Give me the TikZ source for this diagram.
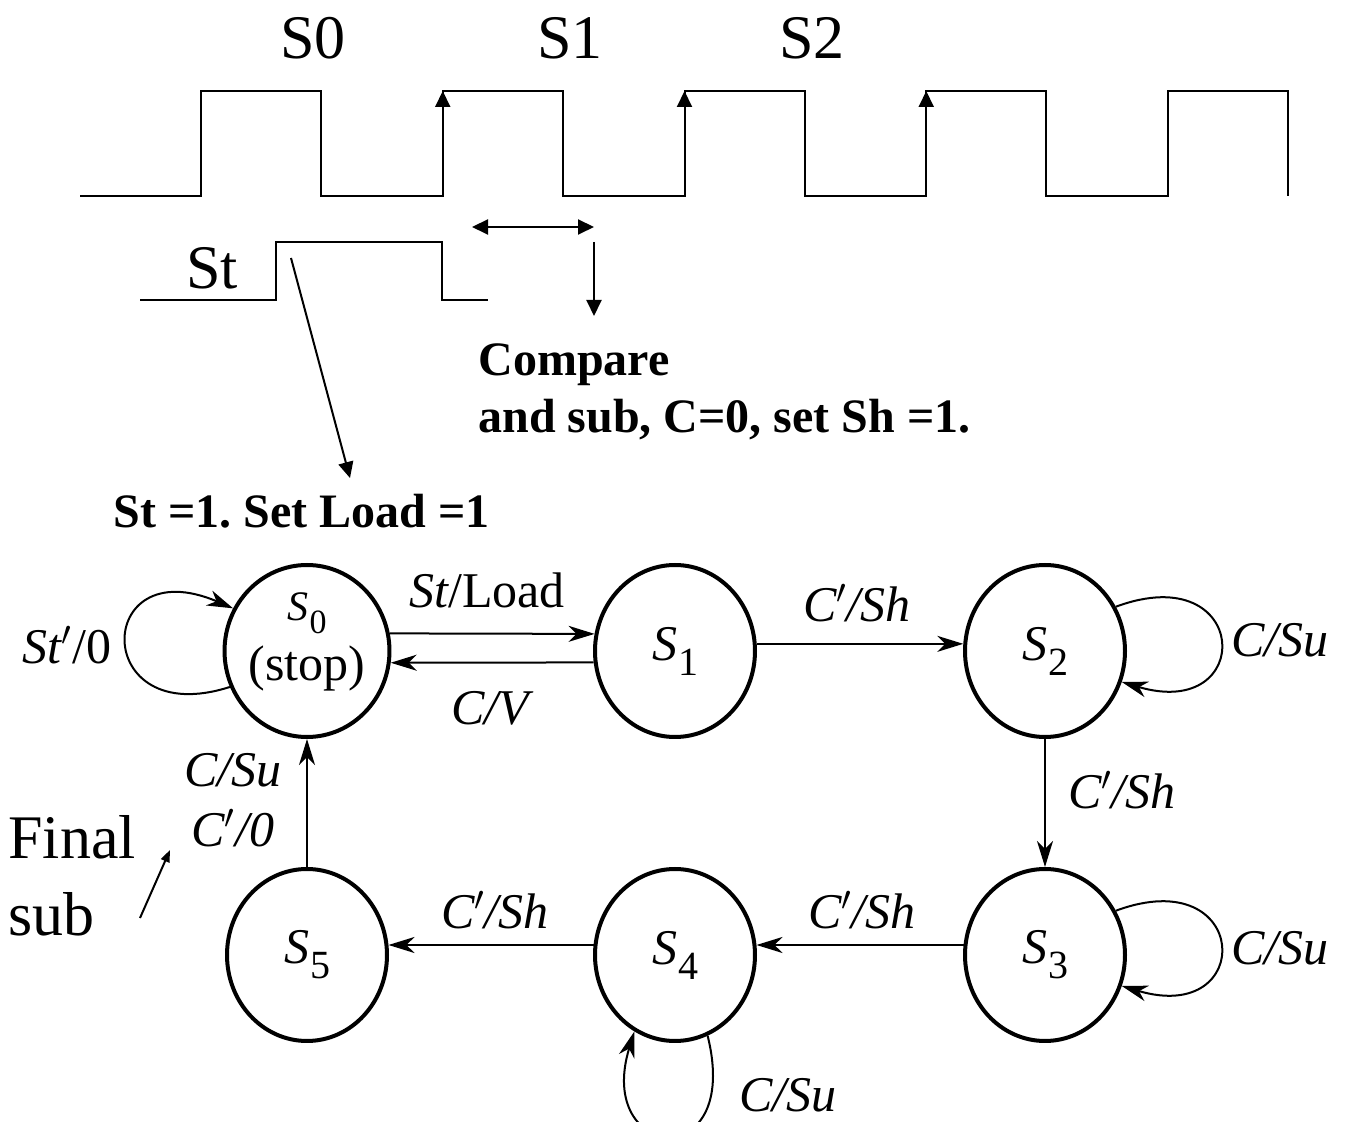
\documentclass[tikz,border=0pt]{standalone}
\usepackage{fontspec}
\setmainfont{Liberation Serif}
\usepackage{tikz}
\usetikzlibrary{arrows.meta, shapes.geometric}

\newcommand{\lblfont}{\fontsize{25}{27}\selectfont}
\newcommand{\bigfont}{\fontsize{31}{38.5}\selectfont}
\newcommand{\notefont}{\fontsize{24}{28.5}\selectfont\bfseries}
\newcommand{\sname}[2][20]{\textit{S}\kern0.5pt\raisebox{-0.3em}{\fontsize{#1}{#1}\selectfont\upshape #2}}
\newcommand{\prm}{\ensuremath{'}}
\frenchspacing

\begin{document}
\begin{tikzpicture}[x=0.5pt, y=-0.5pt,
    state/.style={ellipse, draw, line width=2pt, minimum width=80pt, minimum height=86pt,
                  inner sep=0pt, align=center, font=\lblfont},
    lbl/.style={font=\lblfont\itshape, inner sep=1pt},
    edge/.style={line width=1pt, -{Stealth[length=13pt, width=8pt, inset=4pt]}},
    wave/.style={line width=1pt},
    clk/.style={line width=1pt, -{Triangle[length=8pt, width=7.5pt]}}]
    \useasboundingbox (0,0) rectangle (1346,1122);

    % --- CLOCK AND START SIGNAL (TOP) ---
    \draw[wave] (80,196) \foreach \x in {201,442.75,684.5,926.25,1168}
        {-- (\x,196) -- (\x,91) -- (\x+120,91) -- (\x+120,196)};
    \foreach \x in {442.75,684.5,926.25} \draw[clk] (\x,196) -- (\x,91);

    \node[font=\bigfont] (c0) at (313,38) {S0};
    \node[font=\bigfont] (c1) at (570,38) {S1};
    \node[font=\bigfont] (c2) at (812,38) {S2};

    \draw[wave] (140,300) -- (276,300) -- (276,242) -- (442,242) -- (442,300) -- (488,300);
    \node[font=\bigfont] (st) at (212,268) {St};

    % compare window
    \coordinate (wl) at (472,227);
    \coordinate (wr) at (594,227);
    \coordinate (dtop) at (594,242);
    \coordinate (dbot) at (594,316);
    \draw[line width=1pt, {Triangle[length=8pt, width=7.5pt]}-{Triangle[length=8pt, width=7.5pt]}] (wl) -- (wr);
    \draw[clk] (dtop) -- (dbot);
    \node[font=\notefont, align=left, anchor=north west, inner sep=0pt] (cmp) at (478,343)
        {Compare\\and sub, C=0, set Sh =1.};

    \node[font=\notefont, anchor=west, inner sep=0pt] (ld) at (113,511) {St =1. Set Load =1};
    \coordinate (sthi) at (291,258);
    \coordinate (ldtop) at (350,478);
    \draw[clk] (sthi) -- (ldtop);

    % --- STATE GRAPH (BOTTOM) ---
    \node[state, text depth=14pt] (s0) at (307,651) {{\fontsize{21}{21}\selectfont\sname[17]{0}}\\[3pt](stop)};
    \node[state] (s1) at (675,651) {\sname{1}};
    \node[state] (s2) at (1045,651) {\sname{2}};
    \node[state] (s3) at (1045,955) {\sname{3}};
    \node[state] (s4) at (675,955) {\sname{4}};
    \node[state] (s5) at (307,955) {\sname{5}};

    \draw[edge] (s0.12) -- (s1.168);
    \draw[edge] (s1.188) -- (s0.-8);
    \draw[edge] (s1.5) -- (s2.175);
    \draw[edge] (s2.south) -- (s3.north);
    \draw[edge] (s3.173) -- (s4.7);
    \draw[edge] (s4.173) -- (s5.7);
    \draw[edge] (s5.north) -- (s0.south);

    % self loops
    \draw[edge] (s0.205) .. controls +(-140,45) and +(-140,-60) .. (s0.150);
    \draw[edge] (s2.32) .. controls +(135,-50) and +(135,40) .. (s2.-22);
    \draw[edge] (s3.32) .. controls +(135,-50) and +(135,40) .. (s3.-22);
    \draw[edge] (s4.-68) .. controls +(35,140) and +(-40,130) .. (s4.-118);

    \node[lbl] (l0) at (67,645) {St\prm\upshape/0};
    \node[lbl] (l1) at (487,590) {St\upshape/Load};
    \node[lbl] (l2) at (490,708) {C/V};
    \node[lbl] (l3) at (857,603) {C\prm/Sh};
    \node[lbl] (l4) at (1280,640) {C/Su};
    \node[lbl] (l5) at (1122,790) {C\prm/Sh};
    \node[lbl] (l6) at (1280,948) {C/Su};
    \node[lbl] (l7) at (862,910) {C\prm/Sh};
    \node[lbl] (l8) at (495,910) {C\prm/Sh};
    \node[lbl] (l9) at (788,1095) {C/Su};
    \node[lbl] (l10) at (233,770) {C/Su};
    \node[lbl] (l11) at (233,828) {C\prm/0};

    \node[font=\bigfont, align=left, anchor=west, inner sep=0pt] (fin) at (8,876) {Final\\sub};
    \coordinate (fa) at (140,918);
    \coordinate (fb) at (170,850);
    \draw[line width=1pt, -{Triangle[length=6pt, width=4.5pt]}] (fa) -- (fb);
\end{tikzpicture}
\end{document}
